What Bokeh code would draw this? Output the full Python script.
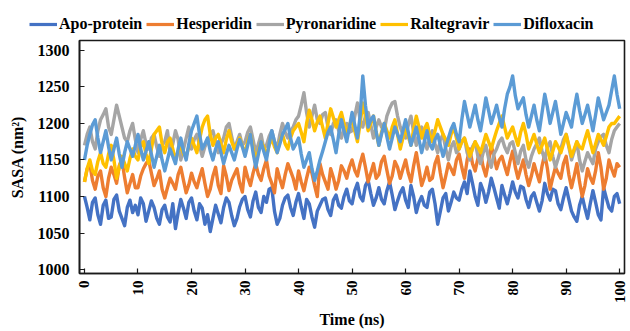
import math
from bokeh.plotting import figure
from bokeh.layouts import column
from bokeh.models import Range1d, Legend, LegendItem, FixedTicker, ColumnDataSource
from bokeh.embed import file_html
from bokeh.resources import INLINE

# sampled every 0.5 ns, 0..100 ns
time_ns = [i * 0.5 for i in range(201)]

apo_protein = [
    1100,1085,1068,1092,1098,1075,1062,1088,1095,1070,
    1072,1096,1102,1080,1070,1060,1085,1095,1078,1088,
    1075,1098,1090,1066,1080,1094,1085,1070,1062,1082,
    1088,1072,1065,1090,1056,1078,1096,1084,1070,1092,
    1098,1080,1068,1090,1084,1062,1075,1052,1070,1088,
    1076,1064,1085,1098,1092,1074,1060,1070,1086,1096,
    1100,1082,1072,1094,1106,1085,1078,1100,1092,1110,
    1112,1080,1062,1070,1088,1098,1102,1085,1074,1092,
    1104,1086,1070,1096,1090,1072,1058,1080,1088,1096,
    1098,1082,1074,1095,1102,1088,1084,1100,1110,1094,
    1090,1108,1118,1100,1094,1115,1122,1104,1088,1098,
    1112,1096,1090,1108,1120,1102,1082,1094,1105,1112,
    1095,1085,1115,1100,1078,1092,1100,1088,1085,1106,
    1110,1090,1062,1080,1098,1104,1080,1092,1106,1098,
    1095,1110,1120,1104,1135,1118,1100,1088,1118,1108,
    1092,1106,1125,1112,1098,1084,1115,1102,1090,1104,
    1120,1106,1098,1114,1112,1096,1085,1100,1105,1092,
    1080,1094,1118,1104,1095,1110,1108,1090,1082,1098,
    1112,1096,1080,1072,1066,1088,1100,1084,1070,1090,
    1108,1092,1075,1068,1112,1098,1085,1080,1100,1104,
    1090]

hesperidin = [
    1120,1138,1145,1122,1110,1128,1135,1112,1100,1125,
    1140,1130,1118,1142,1150,1126,1105,1118,1130,1112,
    1112,1128,1138,1145,1150,1132,1115,1124,1135,1110,
    1098,1112,1125,1118,1110,1130,1140,1122,1105,1116,
    1132,1120,1112,1126,1138,1118,1100,1110,1128,1140,
    1115,1104,1142,1128,1108,1122,1130,1138,1118,1106,
    1140,1126,1115,1132,1145,1130,1122,1138,1150,1128,
    1118,1105,1138,1124,1112,1130,1145,1135,1125,1110,
    1135,1120,1108,1125,1140,1132,1115,1100,1145,1130,
    1120,1110,1138,1126,1110,1122,1142,1135,1125,1140,
    1150,1136,1128,1145,1158,1140,1120,1132,1145,1125,
    1130,1148,1155,1136,1118,1128,1148,1140,1125,1138,
    1150,1132,1120,1142,1160,1138,1115,1126,1140,1122,
    1125,1145,1155,1132,1112,1128,1145,1138,1130,1150,
    1158,1140,1125,1150,1165,1145,1135,1152,1160,1140,
    1128,1148,1170,1155,1138,1150,1155,1142,1130,1148,
    1162,1140,1125,1138,1150,1130,1115,1128,1145,1132,
    1120,1142,1158,1138,1110,1126,1140,1132,1125,1145,
    1155,1130,1112,1128,1145,1120,1100,1115,1138,1126,
    1118,1135,1160,1140,1110,1125,1150,1138,1128,1145,
    1140]

pyronaridine = [
    1170,1185,1195,1175,1165,1190,1205,1212,1220,1195,
    1185,1205,1225,1210,1195,1180,1175,1190,1200,1178,
    1160,1178,1190,1172,1165,1180,1185,1168,1155,1170,
    1175,1190,1160,1172,1190,1178,1150,1165,1180,1195,
    1165,1178,1185,1170,1155,1168,1175,1185,1190,1175,
    1160,1172,1180,1195,1200,1182,1165,1175,1185,1170,
    1175,1188,1195,1178,1160,1172,1185,1165,1170,1182,
    1190,1175,1165,1185,1200,1188,1180,1190,1195,1205,
    1210,1225,1242,1215,1195,1210,1225,1205,1200,1212,
    1215,1195,1185,1200,1205,1190,1180,1195,1200,1188,
    1190,1210,1228,1205,1195,1210,1215,1198,1180,1195,
    1205,1195,1190,1210,1220,1228,1230,1210,1195,1185,
    1180,1198,1210,1188,1170,1185,1195,1178,1165,1180,
    1190,1172,1160,1178,1185,1165,1150,1168,1175,1160,
    1165,1175,1180,1160,1150,1168,1175,1155,1145,1160,
    1170,1152,1140,1158,1165,1175,1180,1168,1160,1172,
    1175,1160,1145,1162,1170,1150,1140,1155,1165,1172,
    1180,1162,1150,1168,1175,1155,1140,1152,1165,1178,
    1185,1168,1150,1162,1175,1150,1135,1148,1160,1152,
    1145,1165,1175,1182,1185,1170,1160,1178,1190,1195,
    1200]

raltegravir = [
    1120,1138,1150,1135,1130,1148,1160,1145,1140,1158,
    1170,1150,1125,1140,1155,1145,1135,1152,1165,1155,
    1150,1168,1175,1158,1145,1165,1185,1190,1195,1172,
    1160,1175,1180,1165,1150,1162,1170,1158,1155,1168,
    1180,1170,1160,1178,1195,1205,1210,1185,1170,1180,
    1185,1172,1160,1178,1190,1175,1165,1172,1180,1168,
    1160,1175,1185,1165,1150,1162,1175,1168,1155,1170,
    1180,1168,1160,1175,1185,1172,1165,1180,1190,1195,
    1200,1188,1175,1200,1218,1205,1190,1202,1210,1195,
    1180,1200,1220,1208,1195,1205,1215,1200,1185,1198,
    1205,1190,1175,1200,1228,1210,1190,1200,1210,1188,
    1170,1188,1200,1190,1180,1195,1205,1185,1165,1180,
    1195,1182,1170,1192,1210,1195,1180,1192,1200,1185,
    1175,1190,1205,1195,1185,1178,1170,1185,1195,1180,
    1165,1175,1180,1168,1155,1165,1175,1168,1160,1172,
    1185,1175,1165,1178,1190,1200,1210,1195,1180,1188,
    1195,1182,1170,1188,1200,1185,1165,1175,1185,1172,
    1160,1170,1180,1165,1150,1162,1175,1168,1160,1172,
    1185,1170,1155,1165,1175,1168,1165,1178,1190,1175,
    1160,1172,1185,1178,1170,1182,1195,1200,1200,1205,
    1210]

difloxacin = [
    1150,1170,1185,1198,1205,1180,1160,1175,1190,1168,
    1150,1165,1180,1158,1140,1160,1175,1165,1155,1170,
    1185,1165,1150,1162,1175,1158,1140,1155,1170,1150,
    1135,1150,1165,1155,1145,1165,1180,1162,1150,1172,
    1190,1200,1210,1185,1165,1172,1180,1162,1150,1165,
    1175,1160,1145,1158,1170,1160,1150,1165,1178,1168,
    1155,1170,1185,1160,1140,1158,1175,1162,1150,1172,
    1190,1175,1160,1172,1185,1192,1200,1180,1165,1172,
    1180,1158,1140,1150,1160,1138,1122,1135,1150,1162,
    1175,1188,1195,1178,1160,1185,1205,1190,1175,1195,
    1215,1198,1180,1210,1265,1225,1195,1205,1210,1188,
    1170,1185,1200,1182,1165,1180,1195,1185,1175,1190,
    1205,1188,1170,1182,1195,1178,1160,1175,1190,1172,
    1165,1178,1185,1170,1155,1168,1180,1192,1200,1185,
    1175,1205,1230,1212,1195,1210,1225,1205,1190,1212,
    1235,1218,1200,1212,1225,1208,1195,1220,1240,1250,
    1265,1238,1220,1228,1235,1212,1195,1210,1225,1205,
    1190,1215,1240,1222,1200,1215,1230,1208,1185,1200,
    1215,1205,1195,1220,1240,1218,1200,1212,1225,1208,
    1190,1212,1235,1220,1205,1215,1225,1245,1265,1240,
    1220]

series_names = ["Apo-protein", "Hesperidin", "Pyronaridine", "Raltegravir", "Difloxacin"]
series_values = [apo_protein, hesperidin, pyronaridine, raltegravir, difloxacin]
series_colors = ["#4472C4", "#ED7D31", "#A5A5A5", "#FFC000", "#5B9BD5"]

x_ticks = [0, 10, 20, 30, 40, 50, 60, 70, 80, 90, 100]
y_ticks = [1000, 1050, 1100, 1150, 1200, 1250, 1300]

FONT = "Liberation Serif"

# --- legend strip (separate figure so the legend is not clipped by the plot frame)
leg_fig = figure(width=630, height=38, output_backend="svg", toolbar_location=None,
                 x_range=Range1d(0, 1), y_range=Range1d(0, 1),
                 min_border_left=0, min_border_right=0, min_border_top=0, min_border_bottom=0)
leg_fig.axis.visible = False
leg_fig.grid.visible = False
leg_fig.outline_line_color = None
leg_fig.frame_align = False

leg_items = []
for name, col in zip(series_names, series_colors):
    # placeholder line lying outside the strip's visible range: only its legend glyph shows
    dummy = leg_fig.line(x=[5, 6], y=[5, 6], line_color=col, line_width=3.2)
    leg_items.append(LegendItem(label=name, renderers=[dummy]))

legend = Legend(items=leg_items, orientation="horizontal", location=(29, 5),
                glyph_width=28, glyph_height=16, label_height=16,
                label_standoff=2, spacing=4, padding=0, margin=0,
                background_fill_alpha=0, border_line_color=None,
                label_text_font=FONT, label_text_font_style="bold",
                label_text_font_size="16px", label_text_color="black")
leg_fig.add_layout(legend, "center")

# --- main plot
p = figure(width=630, height=293, output_backend="svg", toolbar_location=None,
           x_range=Range1d(-0.93, 100.9), y_range=Range1d(994.6, 1313.5),
           min_border_left=79, min_border_right=6, min_border_top=2, min_border_bottom=54)
p.frame_align = False

p.xgrid.visible = False
p.ygrid.visible = False
p.outline_line_color = "#1a1a1a"
p.outline_line_width = 1.6
p.background_fill_color = "white"
p.border_fill_color = "white"

for name, vals, col in zip(series_names, series_values, series_colors):
    src = ColumnDataSource(dict(x=time_ns, y=vals))
    p.line("x", "y", source=src, line_color=col, line_width=3.4, line_join="round")

for ax in (p.xaxis[0], p.yaxis[0]):
    ax.axis_line_color = "#1a1a1a"
    ax.axis_line_width = 1.6
    ax.major_tick_in = 5
    ax.major_tick_out = 0
    ax.major_tick_line_color = "#1a1a1a"
    ax.major_tick_line_width = 1.2
    ax.minor_tick_line_color = None
    ax.major_label_text_font = FONT
    ax.major_label_text_font_style = "bold"
    ax.major_label_text_font_size = "16px"
    ax.major_label_text_color = "black"
    ax.axis_label_text_font = FONT
    ax.axis_label_text_font_style = "bold"
    ax.axis_label_text_font_size = "16px"
    ax.axis_label_text_color = "black"

p.xaxis[0].ticker = FixedTicker(ticks=x_ticks)
p.yaxis[0].ticker = FixedTicker(ticks=y_ticks)
p.xaxis[0].major_label_orientation = math.pi / 2
p.xaxis[0].major_label_text_font_size = "15px"
p.xaxis[0].major_label_standoff = 7
p.xaxis[0].axis_label = "Time (ns)"
p.xaxis[0].axis_label_standoff = 5
p.yaxis[0].axis_label = "SASA (nm²)"
p.yaxis[0].major_label_standoff = 10
p.yaxis[0].axis_label_standoff = 9

layout = column(leg_fig, p, spacing=0)

open("out.html", "w").write(file_html(layout, INLINE))
